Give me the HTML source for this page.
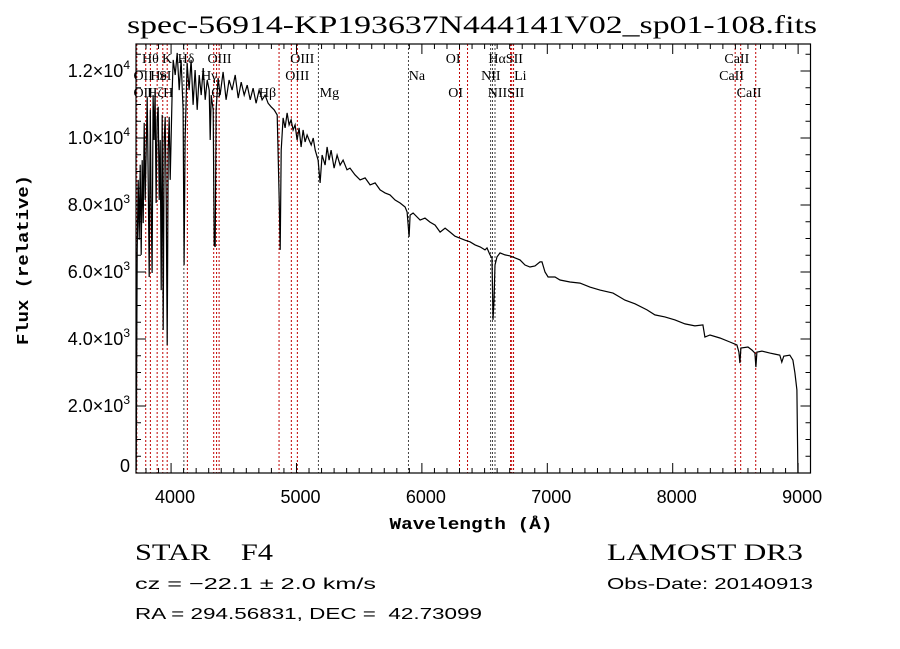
<!DOCTYPE html>
<html><head><meta charset="utf-8"><style>
html,body{margin:0;padding:0;background:#fff;}
svg{display:block;}
text{fill:#000;white-space:pre;}
</style></head><body>
<svg id="chart" width="900" height="649" viewBox="0 0 900 649" xmlns="http://www.w3.org/2000/svg" xml:space="preserve">
<rect x="0" y="0" width="900" height="649" fill="#fff"/>
<text x="472" y="33" font-family="Liberation Serif, serif" font-size="25" text-anchor="middle" textLength="690" lengthAdjust="spacingAndGlyphs">spec-56914-KP193637N444141V02_sp01-108.fits</text>
<g id="lines"></g>
<g id="linelabels"></g>
<path id="spec" fill="none" stroke="#000" stroke-width="1.2" stroke-linejoin="miter"/>
<g id="axes"></g>
<rect x="136" y="44" width="674.5" height="429" fill="none" stroke="#000" stroke-width="1.2"/>
<text x="0" y="0" transform="translate(28,260) rotate(-90)" font-family="Liberation Mono, monospace" font-weight="bold" font-size="17" text-anchor="middle" textLength="170" lengthAdjust="spacingAndGlyphs">Flux (relative)</text>
<text x="471" y="529" font-family="Liberation Mono, monospace" font-weight="bold" font-size="17" text-anchor="middle" textLength="163" lengthAdjust="spacingAndGlyphs">Wavelength (Å)</text>
<text x="135" y="560" font-family="Liberation Serif, serif" font-size="23" textLength="138" lengthAdjust="spacingAndGlyphs">STAR    F4</text>
<text x="607" y="560" font-family="Liberation Serif, serif" font-size="23" textLength="196" lengthAdjust="spacingAndGlyphs">LAMOST DR3</text>
<text x="135" y="589" font-family="Liberation Sans, sans-serif" font-size="16" textLength="241" lengthAdjust="spacingAndGlyphs">cz = −22.1 ± 2.0 km/s</text>
<text x="607" y="589" font-family="Liberation Sans, sans-serif" font-size="16" textLength="206" lengthAdjust="spacingAndGlyphs">Obs-Date: 20140913</text>
<text x="135" y="619" font-family="Liberation Sans, sans-serif" font-size="16" textLength="347" lengthAdjust="spacingAndGlyphs">RA = 294.56831, DEC =  42.73099</text>
</svg>
<script>
const waves = [3722,3730,3738,3746,3754,3762,3770,3778,3786,3794,3802,3810,3818,3826,3834,3841,3849,3857,3865,3873,3881,3889,3897,3905,3913,3921,3929,3937,3945,3953,3961,3969,3977,3985,3993,4009,4017,4033,4049,4065,4080,4096,4104,4112,4128,4144,4160,4176,4192,4208,4224,4240,4256,4272,4288,4304,4312,4320,4336,4344,4352,4359,4375,4391,4415,4439,4463,4487,4511,4535,4559,4583,4607,4631,4654,4678,4702,4726,4750,4774,4798,4822,4846,4862,4870,4878,4893,4909,4925,4941,4957,4973,4989,5005,5021,5037,5053,5069,5085,5101,5117,5133,5149,5172,5188,5204,5228,5244,5260,5276,5300,5324,5348,5372,5403,5427,5467,5507,5547,5587,5627,5667,5706,5746,5786,5826,5866,5882,5898,5906,5930,5986,6025,6065,6105,6145,6185,6225,6264,6304,6344,6384,6424,6464,6503,6519,6543,6559,6567,6575,6583,6599,6623,6663,6703,6743,6782,6822,6862,6902,6942,6958,6982,7006,7061,7101,7181,7261,7340,7420,7524,7579,7619,7699,7795,7858,7938,8018,8098,8177,8241,8257,8297,8376,8456,8512,8528,8536,8544,8600,8632,8655,8663,8671,8711,8775,8815,8854,8870,8886,8934,8958,8974,8990,8998];
const flux = [90,6660,8750,6960,9200,6510,9340,7460,10450,8150,9640,11220,8750,5850,10840,8150,5970,11280,9940,11430,8060,10540,10930,8150,9940,5460,10690,4270,9940,10630,8150,3820,9640,10630,8750,11430,12330,11880,12540,11430,12330,10840,6210,9940,12240,11430,12330,10990,12030,10840,11880,11280,12090,11140,11730,11430,9940,11280,10840,6810,6750,10840,11790,11280,11970,11140,11730,11430,11880,11190,11670,11280,11580,11140,11490,11040,11430,11140,11280,11040,10930,10840,10690,8150,6660,9640,10600,10300,10750,10390,10540,10240,10390,9940,10300,9730,10240,9880,10090,9940,9790,10000,9640,9340,8660,9490,9190,9730,9340,9640,9100,9490,9190,9340,9050,9100,8900,8750,8810,8600,8660,8450,8360,8300,8150,8060,7940,7790,7050,7700,7760,7550,7610,7490,7400,7190,7310,7190,7070,7010,6950,6900,6810,6750,6660,6720,6510,6420,4570,5160,6210,6450,6570,6510,6480,6420,6360,6210,6150,6180,6300,6300,6000,5850,5850,5760,5700,5670,5550,5460,5370,5250,5160,5050,4870,4720,4660,4570,4450,4390,4420,4060,4120,4030,3910,3820,3610,3280,3730,3760,3670,3580,3160,3610,3640,3580,3550,3520,3310,3490,3520,3370,2990,2480,0];
const lineWaves = [3727,3798,3835,3889,3934,3969,4102,4130,4340,4363,4383,4861,4959,5007,5175,5893,6300,6364,6548,6563,6583,6707,6716,6731,8498,8542,8662];
const lineDark = [0,0,0,0,0,0,1,0,0,0,0,0,0,0,1,1,0,0,1,1,1,0,0,0,0,0,0];
const labelText = ["Hθ","K","Hδ","OIII","OIII","OI","HαSII","CaII","OII","HeI","S","Hγ","OIII","Na","NII","Li","CaII","OII","HζH","G","Hβ","Mg","OI","NIISII","CaII"];
const labelWave = [3768,3928,4052,4290,4950,6190,6530,8412,3700,3835,3905,4240,4910,5895,6472,6735,8370,3700,3810,4320,4700,5185,6210,6525,8510];
const labelRow = [0,0,0,0,0,0,0,0,1,1,1,1,1,1,1,1,1,2,2,2,2,2,2,2,2];
const xTicks = [4000,5000,6000,7000,8000,9000];
const yTicks = [0,2000,4000,6000,8000,10000,12000];
const yTickMant = ["0","2.0","4.0","6.0","8.0","1.0","1.2"];
const yTickExp = ["","3","3","3","3","4","4"];

const X0=136, X1=810.5, Y0=473, Y1=44;
function xPx(w){ return 547.3 + (w-7000)*0.12541; }
function yPx(f){ return 473 - f*0.0335; }
const NS='http://www.w3.org/2000/svg';
function mk(tag, parent){ const e=document.createElementNS(NS,tag); parent.appendChild(e); return e; }

let d='';
for(let i=0;i<waves.length;i++){ const x=Math.max(X0,xPx(waves[i])); d+=(i?'L':'M')+x.toFixed(1)+' '+yPx(flux[i]).toFixed(1); }
document.getElementById('spec').setAttribute('d', d);

const lg=document.getElementById('lines');
lineWaves.forEach((w,i)=>{
  const l=mk('line',lg);
  
  
  const x=xPx(w);
  l.setAttribute('x1',x); l.setAttribute('x2',x); l.setAttribute('y1',Y1); l.setAttribute('y2',Y0);
  l.setAttribute('stroke', lineDark[i]?'#444':'#c00000');
  l.setAttribute('stroke-width','1');
  l.setAttribute('stroke-dasharray','2,2');
});
const tg=document.getElementById('linelabels');
const rowY=[63,80,97];
labelText.forEach((t,i)=>{
  const e=mk('text',tg);
  
  
  e.setAttribute('x', Math.max(127,xPx(labelWave[i])));
  e.setAttribute('y', rowY[labelRow[i]]);
  e.setAttribute('font-family','Liberation Serif, serif');
  e.setAttribute('font-size','14');
  e.textContent=t;
});

const ag=document.getElementById('axes');
function tick(x1,y1,x2,y2){ const l=mk('line',ag); l.setAttribute('x1',x1);l.setAttribute('y1',y1);l.setAttribute('x2',x2);l.setAttribute('y2',y2);l.setAttribute('stroke','#000');l.setAttribute('stroke-width','1');
  
  
}
for(let w=3800; w<=9000; w+=100){
  const x=xPx(w); if(x<X0||x>X1) continue;
  const major = (w%1000===0); const len = major?10:5;
  tick(x,Y0,x,Y0-len); tick(x,Y1,x,Y1+len);
}
xTicks.forEach(w=>{
  const e=mk('text',ag);
  
  
  e.setAttribute('x', xPx(w)+4); e.setAttribute('y',503);
  e.setAttribute('font-family','Liberation Sans, sans-serif'); e.setAttribute('font-size','18');
  e.setAttribute('text-anchor','middle'); e.textContent=w;
});
for(let f=0; f<=12500; f+=500){
  const y=yPx(f); const major=(f%2000===0); const len=major?10:5;
  tick(X0,y,X0+len,y); tick(X1,y,X1-len,y);
}
yTicks.forEach((f,i)=>{
  const e=mk('text',ag);
  
  
  e.setAttribute('x',130); e.setAttribute('y', yPx(f)+6 - (f===0?7:0));
  e.setAttribute('font-family','Liberation Sans, sans-serif'); e.setAttribute('font-size','18');
  e.setAttribute('text-anchor','end');
  if(yTickExp[i]){
    e.textContent=yTickMant[i]+'×10';
    const s=mk('tspan',e); s.setAttribute('font-size','12'); s.setAttribute('dy','-8'); s.textContent=yTickExp[i];
  } else e.textContent=yTickMant[i];
});
</script>
</body></html>
